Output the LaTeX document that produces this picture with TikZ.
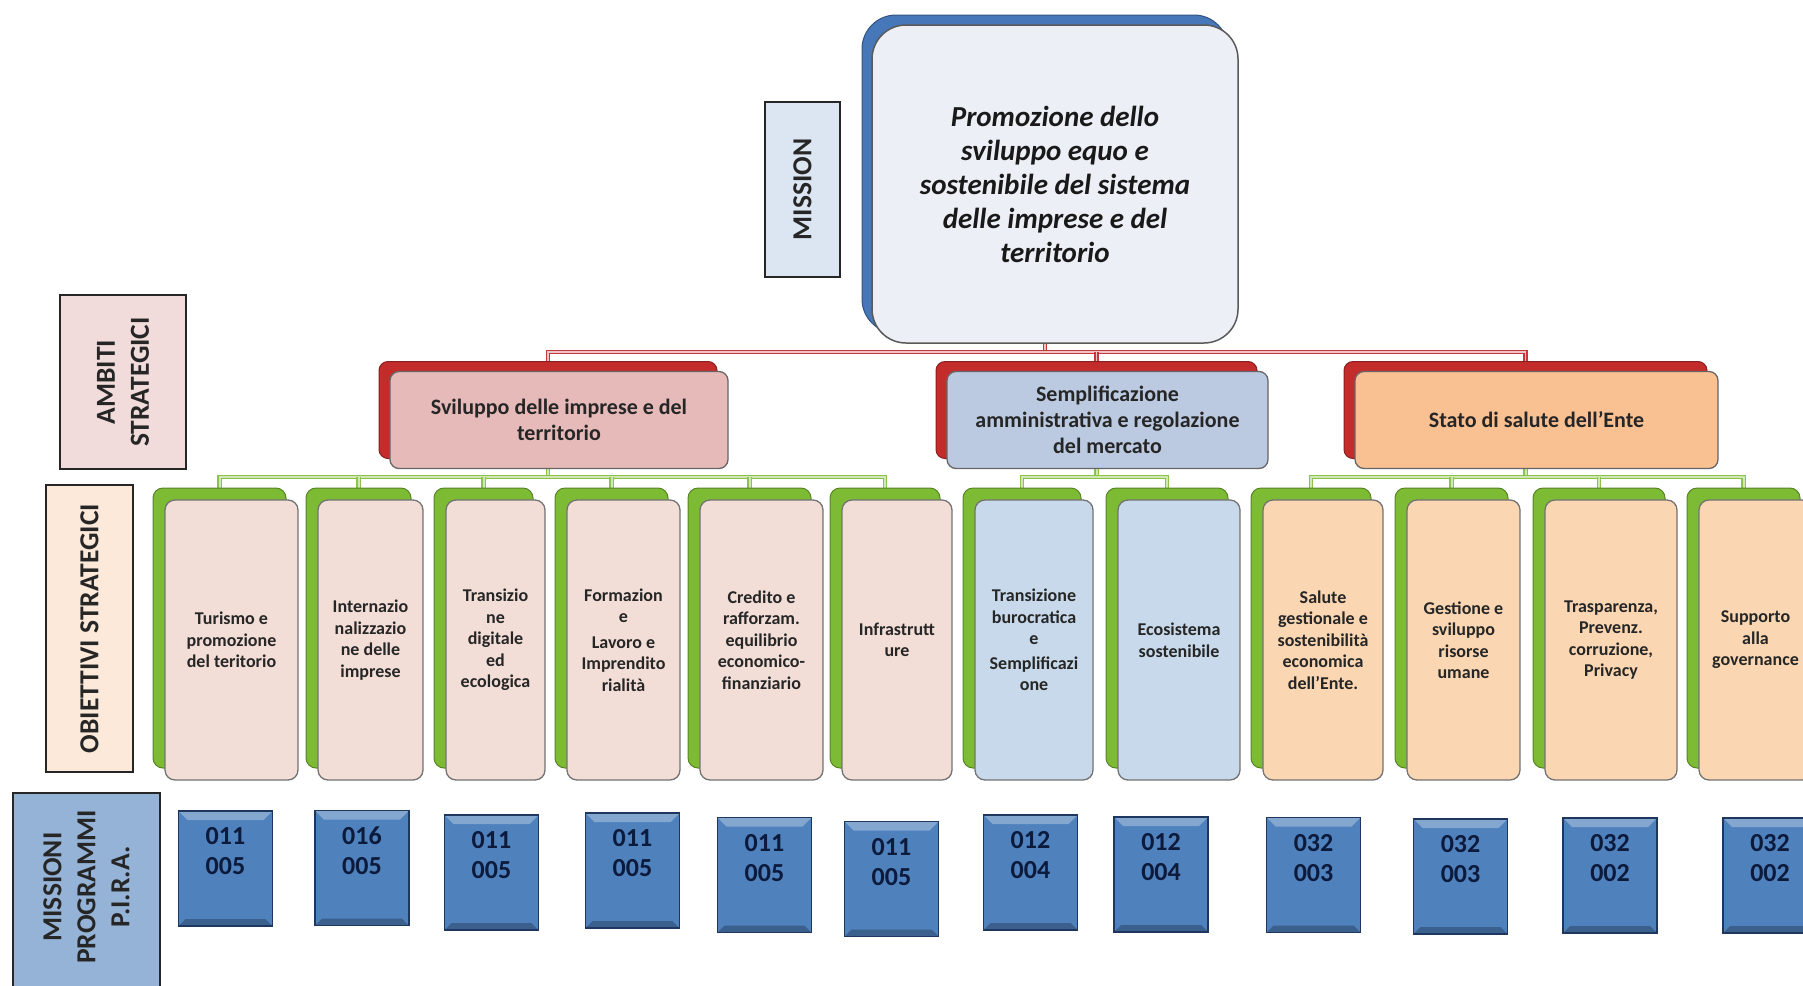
\documentclass[tikz,border=0pt]{standalone}
\usepackage{fontspec}
\setmainfont{Carlito}
\usepackage{xcolor}
\usepackage{tikz}
\usetikzlibrary{positioning, backgrounds}

\definecolor{missionblue}{RGB}{70,120,185}
\definecolor{missionfill}{RGB}{236,239,245}
\definecolor{ambred}{RGB}{196,44,44}
\definecolor{ambpink}{RGB}{230,186,185}
\definecolor{ambblue}{RGB}{187,202,224}
\definecolor{amborange}{RGB}{249,192,146}
\definecolor{objgreen}{RGB}{125,187,52}
\definecolor{objpink}{RGB}{242,222,215}
\definecolor{objblue}{RGB}{199,217,234}
\definecolor{objpeach}{RGB}{250,215,178}
\definecolor{codeblue}{RGB}{79,129,189}
\definecolor{codeedge}{RGB}{30,55,95}
\definecolor{codetext}{RGB}{12,26,60}
\definecolor{labblue}{RGB}{220,230,242}
\definecolor{labpink}{RGB}{242,220,219}
\definecolor{labpeach}{RGB}{253,233,217}
\definecolor{labdark}{RGB}{149,179,215}
\definecolor{redline}{RGB}{200,55,55}
\definecolor{greenline}{RGB}{140,195,75}

\tikzset{
  sidelabel/.style={draw=black!85, line width=1.8pt, inner sep=0pt, align=center,
    text=black!85, font=\fontsize{27.5}{34}\selectfont\bfseries},
  missionshadow/.style={rounded corners=34pt, fill=missionblue, draw=missionblue!70!black, line width=1pt},
  missionbox/.style={rounded corners=34pt, fill=missionfill, draw=black!65, line width=1.5pt,
    align=center, text=black!90, font=\fontsize{29}{34}\selectfont\bfseries\itshape},
  ambshadow/.style={rounded corners=9pt, fill=ambred, draw=ambred!70!black, line width=1pt},
  ambbox/.style={rounded corners=9pt, draw=black!60, line width=1.3pt, align=center,
    text=black!85, font=\fontsize{22}{26}\selectfont\bfseries},
  objshadow/.style={rounded corners=10pt, fill=objgreen, draw=objgreen!70!black, line width=1pt,
    minimum height=280},
  objbox/.style={rounded corners=10pt, draw=black!55, line width=1.3pt, align=center,
    minimum height=280, text=black!85, font=\fontsize{18}{21.5}\selectfont\bfseries},
  codebox/.style={fill=codeblue, draw=codeedge, line width=1.6pt, minimum width=94, minimum height=115,
    path picture={
      \fill[white, opacity=0.3] (path picture bounding box.north west) -- (path picture bounding box.north east)
        -- ([xshift=-9pt, yshift=-9pt]path picture bounding box.north east)
        -- ([xshift=9pt, yshift=-9pt]path picture bounding box.north west) -- cycle;
      \fill[black, opacity=0.25] (path picture bounding box.south west) -- (path picture bounding box.south east)
        -- ([xshift=-7pt, yshift=7pt]path picture bounding box.south east)
        -- ([xshift=7pt, yshift=7pt]path picture bounding box.south west) -- cycle;
    }},
  codelabel/.style={align=center, anchor=center, text=codetext, font=\fontsize{26}{30}\selectfont\bfseries},
  redlink/.style={draw=redline, double=redline!30, double distance=1.6pt, line width=1.4pt},
  greenlink/.style={draw=greenline, double=greenline!40, double distance=2pt, line width=1.4pt}
}

\begin{document}
\begin{tikzpicture}[x=1pt, y=-1pt]
\useasboundingbox (0,0) rectangle (1803,985);

% ==== Side labels ====
\node[sidelabel, fill=labblue, minimum width=175, minimum height=75, rotate=90] (lmission) at (802.5,189.5) {MISSION};
\node[sidelabel, fill=labpink, minimum width=174, minimum height=126, rotate=90] (lambiti) at (123,382) {AMBITI\\STRATEGICI};
\node[sidelabel, fill=labpeach, minimum width=287, minimum height=87, rotate=90] (lobiettivi) at (89.5,628.5) {OBIETTIVI STRATEGICI};
\node[sidelabel, fill=labdark, minimum width=210, minimum height=147, rotate=90] (lpirabox) at (86.5,898) {};
\node[sidelabel, draw=none, rotate=90] (lpira) at (86.5,887) {MISSIONI\\PROGRAMMI\\P.I.R.A.};

% ==== Mission ====
\node[missionshadow, minimum width=366, minimum height=318] (missionsh) at (1045,174) {};
\node[missionbox, minimum width=366, minimum height=318] (mission) at (1055,184)
  {Promozione dello\\sviluppo equo e\\sostenibile del sistema\\delle imprese e del\\territorio};

% ==== Ambiti strategici ====
\node[ambshadow, minimum width=338, minimum height=97] (amb1sh) at (548,410) {};
\node[ambbox, fill=ambpink, minimum width=338, minimum height=97] (amb1) at (559,420)
  {Sviluppo delle imprese e del\\territorio};
\node[ambshadow, minimum width=321, minimum height=97] (amb2sh) at (1096.5,410) {};
\node[ambbox, fill=ambblue, minimum width=321, minimum height=97] (amb2) at (1107.5,420)
  {Semplificazione\\amministrativa e regolazione\\del mercato};
\node[ambshadow, minimum width=363, minimum height=97] (amb3sh) at (1525.5,410) {};
\node[ambbox, fill=amborange, minimum width=363, minimum height=97] (amb3) at (1536.5,420)
  {Stato di salute dell'Ente};

% ==== Obiettivi strategici ====
\node[objshadow, minimum width=133] (obj1sh) at (219.5,628) {};
\node[objbox, fill=objpink, minimum width=133] (obj1) at (231.5,640) {Turismo e\\promozione\\del teritorio};
\node[objshadow, minimum width=105] (obj2sh) at (358.5,628) {};
\node[objbox, fill=objpink, minimum width=105] (obj2) at (370.5,640) {Internazio\\nalizzazio\\ne delle\\imprese};
\node[objshadow, minimum width=99] (obj3sh) at (483.5,628) {};
\node[objbox, fill=objpink, minimum width=99] (obj3) at (495.5,640) {Transizio\\ne\\digitale\\ed\\ecologica};
\node[objshadow, minimum width=113] (obj4sh) at (611.5,628) {};
\node[objbox, fill=objpink, minimum width=113] (obj4) at (623.5,640) {Formazion\\e\\[4pt]Lavoro e\\Imprendito\\rialità};
\node[objshadow, minimum width=123] (obj5sh) at (749.5,628) {};
\node[objbox, fill=objpink, minimum width=123] (obj5) at (761.5,640) {Credito e\\rafforzam.\\equilibrio\\economico-\\finanziario};
\node[objshadow, minimum width=110] (obj6sh) at (885,628) {};
\node[objbox, fill=objpink, minimum width=110] (obj6) at (897,640) {Infrastrutt\\ure};
\node[objshadow, minimum width=118] (obj7sh) at (1022,628) {};
\node[objbox, fill=objblue, minimum width=118] (obj7) at (1034,640) {Transizione\\burocratica\\e\\[3pt]Semplificazi\\one};
\node[objshadow, minimum width=122] (obj8sh) at (1167,628) {};
\node[objbox, fill=objblue, minimum width=122] (obj8) at (1179,640) {Ecosistema\\sostenibile};
\node[objshadow, minimum width=120] (obj9sh) at (1311,628) {};
\node[objbox, fill=objpeach, minimum width=120] (obj9) at (1323,640) {Salute\\gestionale e\\sostenibilità\\economica\\dell'Ente.};
\node[objshadow, minimum width=113] (obj10sh) at (1451.5,628) {};
\node[objbox, fill=objpeach, minimum width=113] (obj10) at (1463.5,640) {Gestione e\\sviluppo\\risorse\\umane};
\node[objshadow, minimum width=132] (obj11sh) at (1599,628) {};
\node[objbox, fill=objpeach, minimum width=132] (obj11) at (1611,640) {Trasparenza,\\Prevenz.\\corruzione,\\Privacy};
\node[objshadow, minimum width=113] (obj12sh) at (1743.5,628) {};
\node[objbox, fill=objpeach, minimum width=113] (obj12) at (1755.5,640) {Supporto\\alla\\governance};

% ==== Missioni / programmi ====
\node[codebox] (code1) at (225.5,868.5) {};
\node[codelabel] (code1t) at ([yshift=-41pt]code1.north) {011\\005};
\node[codebox] (code2) at (362,868) {};
\node[codelabel] (code2t) at ([yshift=-41pt]code2.north) {016\\005};
\node[codebox] (code3) at (491.5,872.5) {};
\node[codelabel] (code3t) at ([yshift=-41pt]code3.north) {011\\005};
\node[codebox] (code4) at (632.5,870.5) {};
\node[codelabel] (code4t) at ([yshift=-41pt]code4.north) {011\\005};
\node[codebox] (code5) at (764.5,875) {};
\node[codelabel] (code5t) at ([yshift=-41pt]code5.north) {011\\005};
\node[codebox] (code6) at (891.5,879) {};
\node[codelabel] (code6t) at ([yshift=-41pt]code6.north) {011\\005};
\node[codebox] (code7) at (1030.5,872.5) {};
\node[codelabel] (code7t) at ([yshift=-41pt]code7.north) {012\\004};
\node[codebox] (code8) at (1161,874.5) {};
\node[codelabel] (code8t) at ([yshift=-41pt]code8.north) {012\\004};
\node[codebox] (code9) at (1313.5,875) {};
\node[codelabel] (code9t) at ([yshift=-41pt]code9.north) {032\\003};
\node[codebox] (code10) at (1460.5,876.5) {};
\node[codelabel] (code10t) at ([yshift=-41pt]code10.north) {032\\003};
\node[codebox] (code11) at (1610,875.5) {};
\node[codelabel] (code11t) at ([yshift=-41pt]code11.north) {032\\002};
\node[codebox] (code12) at (1770,875.5) {};
\node[codelabel] (code12t) at ([yshift=-41pt]code12.north) {032\\002};

% ==== Connectors ====
\coordinate (redbus) at (0,352);
\coordinate (greenbus) at (0,477);
\begin{scope}[on background layer]
% mission -> ambiti
\draw[redlink] (missionsh.south) -- (missionsh.south |- redbus);
\draw[redlink] (amb1sh.north) -- (amb1sh.north |- redbus) -- (amb3sh.north |- redbus) -- (amb3sh.north);
\draw[redlink] (amb2sh.north) -- (amb2sh.north |- redbus);

% ambiti -> obiettivi
\draw[greenlink] (amb1sh.south) -- (amb1sh.south |- greenbus);
\draw[greenlink] (obj1sh.north) -- (obj1sh.north |- greenbus) -- (obj6sh.north |- greenbus) -- (obj6sh.north);
\foreach \i in {2,...,5}
  \draw[greenlink] (obj\i sh.north) -- (obj\i sh.north |- greenbus);

\draw[greenlink] (amb2sh.south) -- (amb2sh.south |- greenbus);
\draw[greenlink] (obj7sh.north) -- (obj7sh.north |- greenbus) -- (obj8sh.north |- greenbus) -- (obj8sh.north);

\draw[greenlink] (amb3sh.south) -- (amb3sh.south |- greenbus);
\draw[greenlink] (obj9sh.north) -- (obj9sh.north |- greenbus) -- (obj12sh.north |- greenbus) -- (obj12sh.north);
\foreach \i in {10,11}
  \draw[greenlink] (obj\i sh.north) -- (obj\i sh.north |- greenbus);
\end{scope}

\end{tikzpicture}
\end{document}
